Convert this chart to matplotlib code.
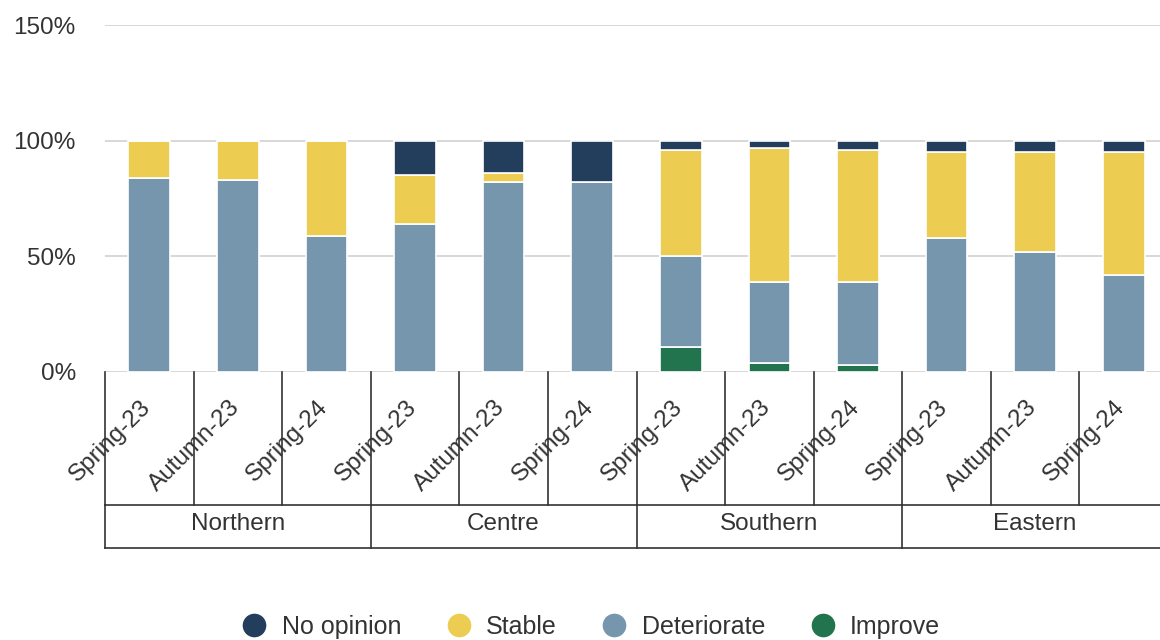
import matplotlib
matplotlib.use("Agg")
import matplotlib.pyplot as plt
import numpy as np
from matplotlib.lines import Line2D

plt.rcParams['font.family'] = ['Liberation Sans', 'DejaVu Sans']

groups = ["Northern", "Centre", "Southern", "Eastern"]
periods = ["Spring-23", "Autumn-23", "Spring-24"]
improve     = [0, 0, 0,   0, 0, 0,   11, 4, 3,   0, 0, 0]
deteriorate = [84, 83, 59,  64, 82, 82,  39, 35, 36,  58, 52, 42]
stable      = [16, 17, 41,  21, 4, 0,   46, 58, 57,  37, 43, 53]
no_opinion  = [0, 0, 0,   15, 14, 18,   4, 3, 4,   5, 5, 5]

series = [("Improve", improve, "#21744d"),
          ("Deteriorate", deteriorate, "#7596ac"),
          ("Stable", stable, "#eccd52"),
          ("No opinion", no_opinion, "#233d5c")]

W, H = 1160, 640
fig = plt.figure(figsize=(W/100, H/100), dpi=100)
ax_left, ax_right, ax_top, ax_bot = 105, 1168, 25, 372
ax = fig.add_axes([ax_left/W, 1-ax_bot/H, (ax_right-ax_left)/W, (ax_bot-ax_top)/H])

n = len(deteriorate)
x = np.arange(n)
bottom = np.zeros(n)
for name, vals, col in series:
    v = np.array(vals, dtype=float)
    ax.bar(x, v, width=0.47, bottom=bottom, color=col, edgecolor="white", linewidth=1.2, zorder=3)
    bottom += v

FS = 17.5
ax.set_xlim(-0.5, n-0.5)
ax.set_ylim(0, 150)
ax.set_yticks([0, 50, 100, 150])
ax.set_yticklabels(["0%", "50%", "100%", "150%"])
ax.yaxis.grid(True, color="#d4d4d4", linewidth=1.3, zorder=0)
ax.set_axisbelow(True)
for s in ax.spines.values():
    s.set_visible(False)
ax.tick_params(axis='y', length=0, pad=21, labelsize=FS, labelcolor="#333333")
ax.tick_params(axis='x', length=0)
ax.set_xticks([])

tr = ax.get_xaxis_transform()
ph = ax_bot - ax_top
def fy(py):
    return (ax_bot - py) / ph

lc = "#333333"
# tick labels
for i in range(n):
    ax.text(i - 0.02, fy(404), periods[i % 3], transform=tr, rotation=45,
            rotation_mode='anchor', ha='right', va='center', fontsize=FS, color=lc, clip_on=False)
# category separators
for k in range(n + 1):
    ax.plot([k - 0.5, k - 0.5], [fy(372), fy(505)], transform=tr, color=lc, lw=1.2, clip_on=False)
ax.plot([-0.5, n - 0.5], [fy(505), fy(505)], transform=tr, color=lc, lw=1.2, clip_on=False)
ax.plot([-0.5, n - 0.5], [fy(548), fy(548)], transform=tr, color=lc, lw=1.2, clip_on=False)
for g in range(len(groups) + 1):
    xg = g * 3 - 0.5
    ax.plot([xg, xg], [fy(505), fy(548)], transform=tr, color=lc, lw=1.2, clip_on=False)
for g, name in enumerate(groups):
    ax.text(g * 3 + 1, fy(524), name, transform=tr, ha='center', va='center',
            fontsize=FS, color=lc, clip_on=False)

# legend
handles = [Line2D([], [], marker='o', linestyle='none', markersize=16,
                  markerfacecolor=c, markeredgecolor=c, label=nm)
           for nm, c in [("No opinion", "#233d5c"), ("Stable", "#eccd52"),
                         ("Deteriorate", "#7596ac"), ("Improve", "#21744d")]]
fig.legend(handles=handles, loc='center', bbox_to_anchor=(591/W, 1 - 627/H), ncol=4,
           frameon=False, fontsize=18, handlelength=1.0, handletextpad=0.6, columnspacing=1.8,
           labelcolor="#333333", borderpad=0)

fig.savefig("out.png", dpi=100)
